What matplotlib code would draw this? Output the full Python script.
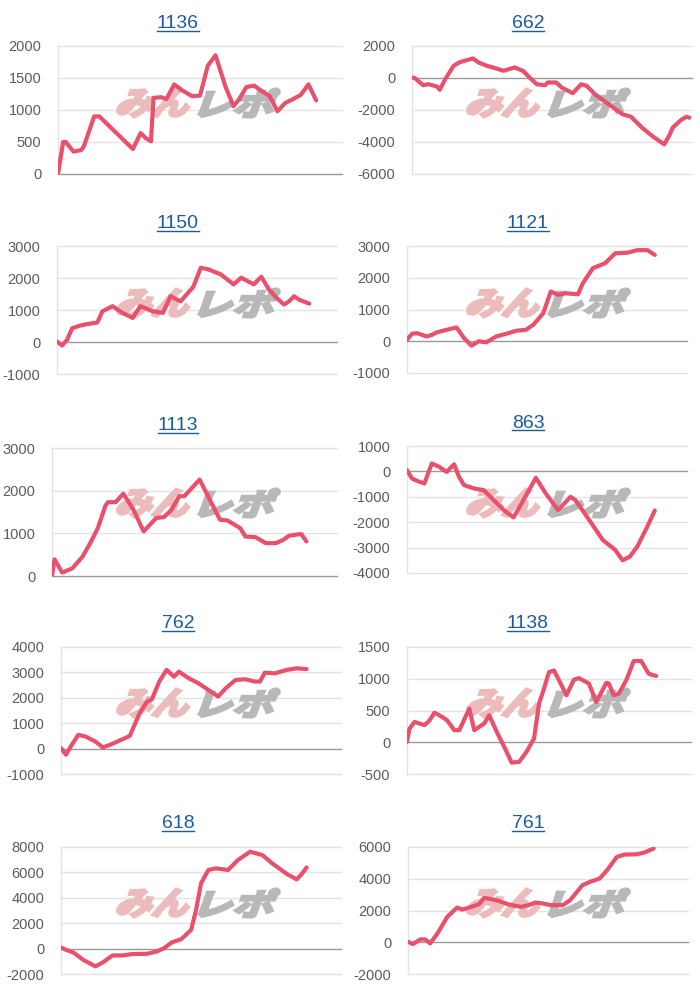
import matplotlib
matplotlib.use("Agg")
import matplotlib.pyplot as plt
from matplotlib.font_manager import FontProperties
from matplotlib.textpath import TextPath
from matplotlib.patches import PathPatch
from matplotlib.transforms import Affine2D
from matplotlib.lines import Line2D

plt.rcParams['font.family'] = ['Liberation Sans', 'DejaVu Sans']

# x = position along the period (0..100), y = difference in coins
days_1136 = [0, 2, 3, 6, 9, 10, 14, 16, 29, 32, 34, 36, 37, 40, 42, 45, 48, 52, 55, 58, 61,
             65, 68, 70, 73, 76, 78, 82, 85, 88, 91, 94, 97, 100]
vals_1136 = [0, 500, 500, 350, 375, 430, 900, 900, 390, 640, 560, 510, 1190, 1200, 1170, 1400,
             1310, 1215, 1225, 1690, 1855, 1350, 1060, 1160, 1360, 1380, 1320, 1215, 980, 1110,
             1170, 1235, 1400, 1150]

days_662 = [0, 1, 4, 6, 9, 10, 12, 15, 17, 19, 22, 24, 27, 30, 33, 35, 37, 40, 43, 45, 48, 49,
            52, 54, 58, 61, 63, 66, 71, 76, 79, 83, 87, 91, 93, 94, 97, 99, 100]
vals_662 = [30, 0, -450, -390, -530, -740, -70, 760, 970, 1080, 1220, 970, 760, 620, 450, 555,
            660, 450, -70, -390, -450, -280, -280, -600, -950, -390, -490, -1020, -1650, -2270,
            -2420, -3110, -3670, -4150, -3520, -3110, -2630, -2420, -2480]

days_1150 = [0, 2, 4, 6, 9, 12, 16, 18, 22, 26, 30, 33, 38, 42, 45, 49, 54, 57, 60, 65, 70, 73,
             78, 81, 84, 87, 90, 92, 94, 96, 100]
vals_1150 = [15, -110, 70, 430, 510, 560, 610, 960, 1120, 910, 750, 1120, 960, 910, 1430, 1270,
             1720, 2320, 2270, 2110, 1800, 2010, 1800, 2040, 1640, 1380, 1170, 1270, 1430, 1320,
             1200]

days_1121 = [0, 2, 4, 8, 10, 12, 17, 20, 23, 26, 29, 32, 36, 40, 44, 48, 51, 55, 58, 61, 64, 69,
             71, 75, 80, 84, 89, 93, 97, 100]
vals_1121 = [50, 235, 255, 150, 200, 280, 380, 435, 100, -140, 0, -35, 150, 235, 330, 360, 520,
             885, 1565, 1460, 1510, 1480, 1830, 2300, 2460, 2770, 2790, 2870, 2870, 2720]

days_1113 = [0, 1, 4, 8, 12, 15, 18, 21, 22, 25, 28, 32, 36, 41, 44, 47, 50, 52, 58, 62, 66, 69,
             74, 76, 80, 84, 88, 91, 93, 97, 98, 100]
vals_1113 = [0, 390, 80, 180, 455, 770, 1120, 1650, 1730, 1730, 1930, 1555, 1045, 1360, 1380,
             1555, 1870, 1870, 2260, 1790, 1320, 1300, 1120, 925, 910, 770, 770, 850, 940, 980,
             980, 810]

days_863 = [0, 2, 4, 7, 10, 13, 16, 19, 21, 23, 27, 31, 35, 39, 43, 47, 52, 56, 61, 66, 68, 74,
            79, 84, 87, 90, 93, 97, 100]
vals_863 = [50, -280, -370, -475, 310, 180, -20, 280, -215, -540, -670, -740, -1130, -1520,
            -1810, -1130, -250, -870, -1520, -1000, -1130, -1980, -2700, -3090, -3500, -3350,
            -2950, -2170, -1540]

days_762 = [0, 2, 4, 7, 10, 14, 17, 20, 23, 26, 28, 32, 35, 37, 40, 43, 46, 48, 52, 56, 60, 64,
            67, 71, 75, 79, 81, 83, 87, 92, 96, 100]
vals_762 = [20, -240, 85, 540, 475, 280, 45, 150, 280, 410, 500, 1390, 1850, 1940, 2640, 3100,
            2830, 3030, 2770, 2570, 2310, 2050, 2370, 2700, 2730, 2640, 2640, 2990, 2960, 3100,
            3160, 3130]

days_1138 = [0, 1, 3, 5, 7, 9, 11, 13, 16, 19, 21, 25, 27, 31, 33, 36, 39, 42, 45, 48, 51, 53,
             55, 57, 59, 62, 64, 67, 69, 73, 76, 80, 81, 83, 85, 88, 91, 94, 97, 99, 100]
vals_1138 = [10, 215, 320, 295, 270, 340, 465, 425, 350, 190, 190, 530, 190, 295, 425, 165, -70,
             -320, -310, -150, 60, 610, 845, 1105, 1130, 900, 740, 985, 1010, 925, 635, 935, 925,
             740, 765, 975, 1280, 1280, 1080, 1055, 1045]

days_618 = [0, 2, 5, 9, 14, 17, 21, 25, 29, 35, 39, 42, 45, 49, 53, 55, 57, 60, 63, 68, 72, 77,
            82, 86, 92, 96, 98, 100]
vals_618 = [90, -95, -300, -880, -1400, -1090, -540, -540, -430, -410, -225, 35, 480, 745, 1480,
            3050, 5140, 6190, 6320, 6190, 6970, 7630, 7360, 6710, 5870, 5450, 5870, 6390]

days_761 = [0, 2, 5, 7, 9, 12, 16, 20, 22, 25, 29, 31, 36, 41, 46, 49, 52, 55, 58, 63, 66, 71,
            74, 78, 81, 85, 88, 93, 96, 100]
vals_761 = [30, -115, 180, 180, -75, 555, 1600, 2190, 2060, 2190, 2400, 2800, 2650, 2380, 2230,
            2335, 2500, 2440, 2335, 2335, 2650, 3590, 3800, 4010, 4530, 5370, 5520, 5540, 5640,
            5900]

titles = ["1136", "662", "1150", "1121", "1113", "863", "762", "1138", "618", "761"]
series = [(days_1136, vals_1136), (days_662, vals_662), (days_1150, vals_1150),
          (days_1121, vals_1121), (days_1113, vals_1113), (days_863, vals_863),
          (days_762, vals_762), (days_1138, vals_1138), (days_618, vals_618),
          (days_761, vals_761)]
y_ticks = [[0, 500, 1000, 1500, 2000],
           [-6000, -4000, -2000, 0, 2000],
           [-1000, 0, 1000, 2000, 3000],
           [-1000, 0, 1000, 2000, 3000],
           [0, 1000, 2000, 3000],
           [-4000, -3000, -2000, -1000, 0, 1000],
           [-1000, 0, 1000, 2000, 3000, 4000],
           [-500, 0, 500, 1000, 1500],
           [-2000, 0, 2000, 4000, 6000, 8000],
           [-2000, 0, 2000, 4000, 6000]]
x_right = [110, 101, 111, 113, 112, 113, 114, 114, 114, 114]

# pixel boxes of the plot areas: left, right, top, bottom
boxes = [(58, 342, 46, 174), (412, 692, 46, 174),
         (57, 337, 246, 374), (407, 687, 246, 373),
         (52, 337, 448, 576), (407, 687, 446, 573),
         (61, 341, 647, 774), (407, 691, 647, 774),
         (61, 341, 847, 974), (408, 688, 847, 974)]
title_y = [24, 24, 224, 224, 426, 423, 624, 624, 824, 824]

W, H = 700, 1000
fig = plt.figure(figsize=(7, 10), dpi=100)
fig.patch.set_facecolor("white")

line_col = "#e8506c"
wm_font = FontProperties(family="Noto Sans CJK JP", weight="bold")


def stamp(ax, text, x0, x1, ytop, ybot, color):
    tp = TextPath((0, 0), text, size=1, prop=wm_font)
    ext = tp.get_extents()
    h = ybot - ytop
    shear = 0.35
    w = (x1 - x0) - shear * h
    tr = (Affine2D().translate(-ext.x0, -ext.y0)
          .scale(w / ext.width, h / ext.height)
          .skew(shear, 0)
          .translate(x0, H - ybot)
          .scale(1 / 100.0)) + fig.dpi_scale_trans
    ax.add_patch(PathPatch(tp, transform=tr, facecolor=color, edgecolor=color,
                           lw=2.2, joinstyle="miter", zorder=1))


titles_txt = []
for i, (title, (xs, ys)) in enumerate(zip(titles, series)):
    l, r, t, b = boxes[i]
    ax = fig.add_axes([l / W, 1 - b / H, (r - l) / W, (b - t) / H])
    ax.set_facecolor("none")
    ticks = y_ticks[i]
    ax.set_ylim(ticks[0], ticks[-1])
    ax.set_xlim(0, x_right[i])
    for tk in ticks:
        ax.axhline(tk, color="#999999" if tk == 0 else "#e3e3e3", lw=1.0,
                   clip_on=False, zorder=0.5 if tk else 0.8)
    ax.axvline(0, color="#e3e3e3", lw=1.0, clip_on=False, zorder=0.5)
    for s in ax.spines.values():
        s.set_visible(False)
    ax.set_xticks([])
    ax.set_yticks(ticks)
    ax.set_yticklabels([str(tk) for tk in ticks])
    ax.tick_params(axis="y", length=0, pad=12, labelsize=10.5, labelcolor="#5c5c5c")

    off = 350 if i % 2 else 0
    row_top = (i // 2) * 200
    stamp(ax, "みん", off + 115, off + 195, row_top + 89, row_top + 117, "#ecbcbc")
    stamp(ax, "レポ", off + 198, off + 280, row_top + 89, row_top + 117, "#b8b8b8")

    ax.plot(xs, ys, color=line_col, lw=3.0, solid_joinstyle="round",
            solid_capstyle="round", zorder=3)

    cx = 178 + off
    txt = fig.text(cx / W, 1 - title_y[i] / H, title, ha="center", va="center",
                   fontsize=14, color="#1d5c99")
    titles_txt.append(txt)

fig.canvas.draw()
for txt in titles_txt:
    bb = txt.get_window_extent()
    y = (bb.y0 + 1.5) / H
    fig.add_artist(Line2D([bb.x0 / W, bb.x1 / W], [y, y], color="#1d5c99", lw=1.0))

fig.savefig("out.png", dpi=100, facecolor="white")
